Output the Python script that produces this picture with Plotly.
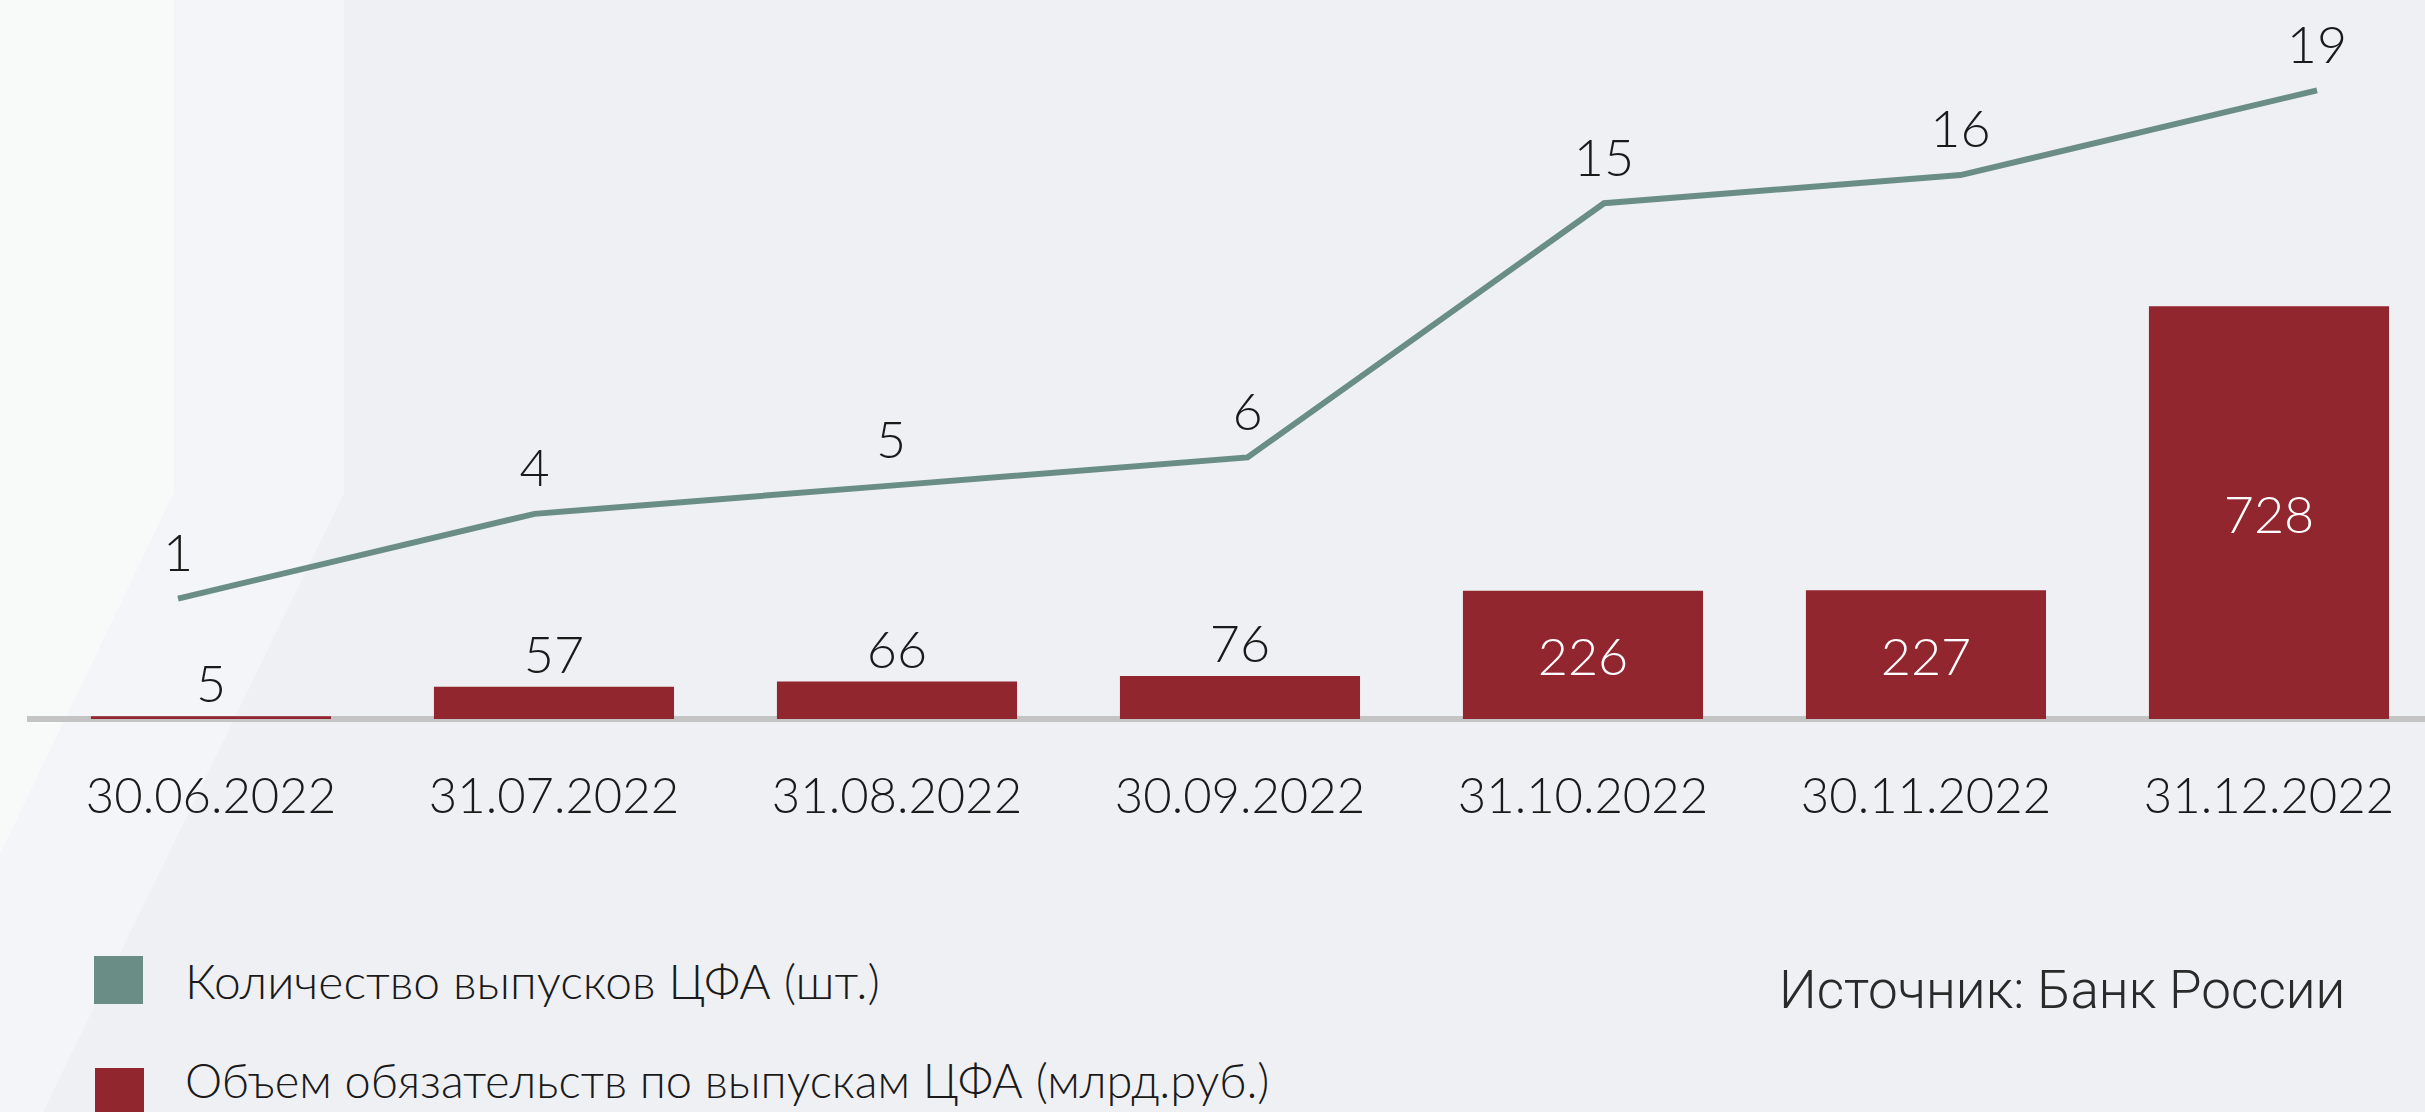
import plotly.graph_objects as go

# ---- data ----
dates = ["30.06.2022", "31.07.2022", "31.08.2022", "30.09.2022",
         "31.10.2022", "30.11.2022", "31.12.2022"]
issues_count = [1, 4, 5, 6, 15, 16, 19]            # шт.
liabilities_volume = [5, 57, 66, 76, 226, 227, 728]  # млрд.руб.

legend_count = "Количество выпусков ЦФА (шт.)"
legend_volume = "Объем обязательств по выпускам ЦФА (млрд.руб.)"
source_text = "Источник: Банк России"

# ---- style ----
W, H = 2425, 1112
ML, PLOT_H = 27, 740
PLOT_W = W - ML
BAR_C = "#92262f"
LINE_C = "#6a8e85"
TXT_C = "#1a1a1a"
BG = "#eff0f4"
FONT = "Lato"

def px_x(p):
    return (p - ML) / PLOT_W

def px_y(p):
    return 1 - p / PLOT_H

fig = go.Figure()

bar_pos = ["inside" if v > 100 else "outside" for v in liabilities_volume]
bar_txt_col = ["white" if p == "inside" else TXT_C for p in bar_pos]

fig.add_trace(go.Bar(
    x=dates, y=liabilities_volume,
    marker=dict(color=BAR_C, line=dict(width=0)),
    text=[str(v) for v in liabilities_volume],
    textposition=bar_pos,
    insidetextanchor="middle",
    textangle=0,
    textfont=dict(family=FONT, size=52, color=bar_txt_col, weight=300),
    cliponaxis=False,
    showlegend=False,
    xaxis="x", yaxis="y",
))

fig.add_trace(go.Scatter(
    x=dates, y=issues_count,
    mode="lines+markers+text",
    line=dict(color=LINE_C, width=6),
    marker=dict(size=22, opacity=0, color=LINE_C),
    text=[str(v) for v in issues_count],
    textposition="top center",
    textfont=dict(family=FONT, size=52, color=TXT_C, weight=300),
    cliponaxis=False,
    showlegend=False,
    xaxis="x2", yaxis="y2",
))

# background decoration
band1 = "M {} {} L {} {} L {} {} L {} {} Z".format(
    px_x(0), px_y(0), px_x(174), px_y(0), px_x(174), px_y(493), px_x(0), px_y(855))
band2 = "M {} {} L {} {} L {} {} L {} {} L {} {} L {} {} L {} {} Z".format(
    px_x(174), px_y(0), px_x(344), px_y(0), px_x(344), px_y(493), px_x(43), px_y(1112),
    px_x(0), px_y(1112), px_x(0), px_y(855), px_x(174), px_y(493))

shapes = [
    dict(type="path", path=band2, xref="paper", yref="paper", fillcolor="#f4f5f8",
         line=dict(width=0), layer="below"),
    dict(type="path", path=band1, xref="paper", yref="paper", fillcolor="#f8f9f9",
         line=dict(width=0), layer="below"),
    # legend squares
    dict(type="rect", xref="paper", yref="paper",
         x0=px_x(94), x1=px_x(143), y0=px_y(956), y1=px_y(1004),
         fillcolor=LINE_C, line=dict(width=0)),
    dict(type="rect", xref="paper", yref="paper",
         x0=px_x(95), x1=px_x(144), y0=px_y(1068), y1=px_y(1116),
         fillcolor=BAR_C, line=dict(width=0)),
]

annotations = [
    dict(text=legend_count, xref="paper", yref="paper", x=px_x(183), y=px_y(981),
         xanchor="left", yanchor="middle", showarrow=False,
         font=dict(family=FONT, size=48, color=TXT_C, weight=300)),
    dict(text=legend_volume, xref="paper", yref="paper", x=px_x(183), y=px_y(1080),
         xanchor="left", yanchor="middle", showarrow=False,
         font=dict(family=FONT, size=47, color=TXT_C, weight=300)),
    dict(text=source_text, xref="paper", yref="paper", x=px_x(2347), y=px_y(990),
         xanchor="right", yanchor="middle", showarrow=False,
         font=dict(family="Roboto", size=53, color="#2a2a2a", weight=300)),
]

fig.update_layout(
    width=W, height=H,
    margin=dict(l=ML, r=0, t=0, b=H - PLOT_H, pad=0),
    paper_bgcolor=BG, plot_bgcolor="rgba(0,0,0,0)",
    bargap=0.3,
    font=dict(family=FONT, color=TXT_C, weight=300),
    uniformtext=dict(mode="show", minsize=52),
    shapes=shapes, annotations=annotations,
    xaxis=dict(type="category", range=[-0.5364, 6.4549], showgrid=False,
               zeroline=False, showline=False,
               ticks="outside", ticklen=13, tickcolor="rgba(0,0,0,0)",
               tickfont=dict(family=FONT, size=49, color=TXT_C, weight=300)),
    xaxis2=dict(type="category", overlaying="x", range=[-0.4236, 6.3029],
                visible=False),
    yaxis=dict(range=[-37, 1268], showgrid=False, showticklabels=False,
               zeroline=True, zerolinecolor="#c4c4c4", zerolinewidth=6),
    yaxis2=dict(range=[-4.01, 22.2], overlaying="y", showgrid=False,
                showticklabels=False, zeroline=False, visible=False),
)

fig.write_html("out.html",
               config={"displayModeBar": False},
               post_script="document.body.style.margin='0';document.body.style.padding='0';")
